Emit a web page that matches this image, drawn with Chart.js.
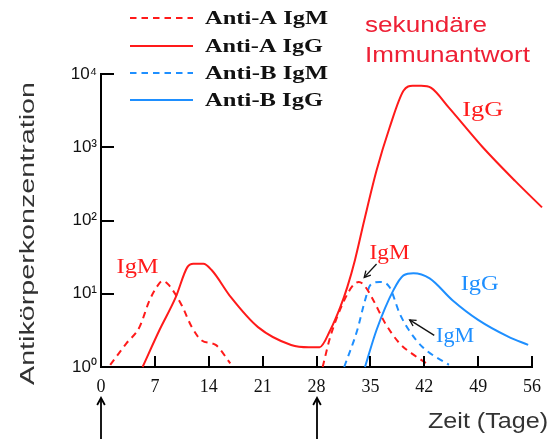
<!DOCTYPE html>
<html>
<head>
<meta charset="utf-8">
<script src="https://cdn.jsdelivr.net/npm/chart.js@4.4.1/dist/chart.umd.min.js"></script>
<style>
  html, body { margin: 0; padding: 0; background: #fff; }
  #wrap { width: 550px; height: 439px; }
</style>
</head>
<body>
<div id="wrap"><canvas id="c" width="550" height="439"></canvas></div>
<script>
// Zeit in Tagen, Konzentration (log-Skala); null = Lücke zwischen Primär- und Sekundärantwort
const antiAIgMDays   = [1.2, 3.3, 5.0, 6.3, 7.3, 8.0, 8.8, 10.5, 11.8, 13.1, 14.9, 16.8, 22, 28.8, 29.8, 31.6, 32.8, 33.5, 34.3, 35.4, 36.9, 38.8, 40.5, 42.3];
const antiAIgMValues = [1.07, 2.1, 3.5, 8.1, 12.6, 15, 13.2, 6.9, 3.5, 2.3, 2.0, 1.12, null, 1.0, 2.6, 8.1, 13.2, 14.5, 12.6, 8.1, 4.0, 2.1, 1.5, 1.12];

const antiAIgGDays   = [5.4, 7.6, 9.7, 11.2, 12.0, 13.3, 14.4, 16.9, 20.4, 24.7, 27.0, 28.4, 29.8, 31.1, 32.0, 33.0, 34.2, 35.8, 37.5, 39.3, 40.5, 41.6, 42.9, 45.2, 49.6, 53.8, 57.3];
const antiAIgGValues = [1.0, 3.2, 8.9, 22.9, 25.7, 25.7, 20.9, 8.9, 3.5, 2.0, 1.86, 1.86, 3.2, 6.6, 12.3, 29, 100, 480, 1860, 5900, 6900, 6900, 6450, 3470, 1000, 347, 151];

const antiBIgMDays   = [31.6, 33.3, 34.3, 35.0, 36.2, 37.5, 38.8, 40.0, 41.8, 45.2];
const antiBIgMValues = [1.0, 3.2, 8.1, 13.2, 14.5, 12.3, 5.4, 3.2, 1.86, 1.07];

const antiBIgGDays   = [34.3, 35.8, 38.0, 39.3, 40.6, 42.7, 45.7, 49.0, 52.9, 55.5];
const antiBIgGValues = [1.0, 3.2, 11.2, 17.8, 19.1, 16.2, 8.1, 4.4, 2.6, 2.0];

const seriesLabels = ['Anti-A IgM', 'Anti-A IgG', 'Anti-B IgM', 'Anti-B IgG'];
const xTicks = [0, 7, 14, 21, 28, 35, 42, 49, 56];
const yTicks = [1, 10, 100, 1000, 10000];
const yTickLabels = ['10⁰', '10¹', '10²', '10³', '10⁴'];
const immunizationDays = [0, 28];

const RED = '#ff1a1a';
const BLUE = '#1e8fff';
const DASH = [6.5, 5];

const zip = (xs, ys) => xs.map((d, i) => ({ x: d, y: ys[i] }));

// Beschriftungen im Diagramm (Datenkoordinaten)
const notes = [
  { text: 'IgM', x: 4.75, y: 23,   color: RED,  w: 42 },
  { text: 'IgG', x: 49.6, y: 3200, color: RED,  w: 41 },
  { text: 'IgM', x: 37.5, y: 36,   color: RED,  w: 40 },
  { text: 'IgG', x: 49.2, y: 13.5, color: BLUE, w: 38 },
  { text: 'IgM', x: 46.0, y: 2.6,  color: BLUE, w: 38 }
];
const pointers = [
  { from: [35.8, 25.5], to: [34.2, 16.7] },
  { from: [43.3, 2.7],  to: [40.1, 4.4] }
];

function stretchText(ctx, text, x, y, width) {
  const w = ctx.measureText(text).width;
  ctx.save();
  ctx.translate(x, y);
  ctx.scale(width / w, 1);
  ctx.textAlign = 'left';
  ctx.fillText(text, 0, 0);
  ctx.restore();
}

function seg(ctx, x1, y1, x2, y2) {
  ctx.beginPath(); ctx.moveTo(x1, y1); ctx.lineTo(x2, y2); ctx.stroke();
}

function arrowHead(ctx, x1, y1, x2, y2, size) {
  const a = Math.atan2(y2 - y1, x2 - x1);
  ctx.beginPath();
  ctx.moveTo(x2 - size * Math.cos(a - 0.5), y2 - size * Math.sin(a - 0.5));
  ctx.lineTo(x2, y2);
  ctx.lineTo(x2 - size * Math.cos(a + 0.5), y2 - size * Math.sin(a + 0.5));
  ctx.stroke();
}

const decor = {
  id: 'decor',
  afterDraw(chart) {
    const { ctx, scales: { x, y } } = chart;
    ctx.save();

    // Teilstriche nach innen
    ctx.strokeStyle = '#000';
    ctx.lineWidth = 2;
    yTicks.slice(1).forEach(v => {
      const py = Math.round(y.getPixelForValue(v));
      seg(ctx, x.left - 1, py, x.left + 13, py);
    });
    xTicks.slice(1).forEach(v => {
      const px = Math.round(x.getPixelForValue(v));
      seg(ctx, px, y.bottom, px, y.bottom - 11);
    });

    // Pfeile für die Immunisierungen
    ctx.lineWidth = 1.8;
    immunizationDays.forEach(d => {
      const px = Math.round(x.getPixelForValue(d));
      seg(ctx, px, 439, px, 399);
      arrowHead(ctx, px, 439, px, 398, 8);
    });

    // Legende
    const rows = [18, 46, 73, 100];
    const styles = [[RED, DASH], [RED, []], [BLUE, DASH], [BLUE, []]];
    const widths = [123, 118, 123, 118];
    rows.forEach((ry, i) => {
      ctx.strokeStyle = styles[i][0];
      ctx.lineWidth = 2;
      ctx.setLineDash(styles[i][1]);
      seg(ctx, 130, ry, 193, ry);
      ctx.setLineDash([]);
      ctx.fillStyle = '#111';
      ctx.font = 'bold 19px "Liberation Serif"';
      ctx.textBaseline = 'middle';
      stretchText(ctx, seriesLabels[i], 205, ry + 1, widths[i]);
    });

    // Beschriftungen der Kurven
    ctx.font = '22px "Liberation Serif"';
    ctx.textBaseline = 'middle';
    notes.forEach(n => {
      ctx.fillStyle = n.color;
      const px = x.getPixelForValue(n.x), py = y.getPixelForValue(n.y);
      stretchText(ctx, n.text, px - n.w / 2, py, n.w);
    });

    ctx.strokeStyle = '#111';
    ctx.lineWidth = 1.3;
    pointers.forEach(p => {
      const x1 = x.getPixelForValue(p.from[0]), y1 = y.getPixelForValue(p.from[1]);
      const x2 = x.getPixelForValue(p.to[0]), y2 = y.getPixelForValue(p.to[1]);
      seg(ctx, x1, y1, x2, y2);
      arrowHead(ctx, x1, y1, x2, y2, 7);
    });

    // Titel
    ctx.fillStyle = '#ee2035';
    ctx.font = '22px "Liberation Sans"';
    ctx.textBaseline = 'alphabetic';
    stretchText(ctx, 'sekundäre', 365, 32, 122);
    stretchText(ctx, 'Immunantwort', 365, 62, 165);

    ctx.fillStyle = '#333';
    ctx.font = '22px "Liberation Sans"';
    stretchText(ctx, 'Zeit (Tage)', 428, 428, 120);

    ctx.save();
    ctx.translate(34, 385);
    ctx.rotate(-Math.PI / 2);
    ctx.font = '21px "Liberation Sans"';
    stretchText(ctx, 'Antikörperkonzentration', 0, 0, 303);
    ctx.restore();

    ctx.restore();
  }
};

new Chart(document.getElementById('c'), {
  type: 'line',
  data: {
    datasets: [
      { label: seriesLabels[0], data: zip(antiAIgMDays, antiAIgMValues), borderColor: RED, borderDash: DASH },
      { label: seriesLabels[1], data: zip(antiAIgGDays, antiAIgGValues), borderColor: RED },
      { label: seriesLabels[2], data: zip(antiBIgMDays, antiBIgMValues), borderColor: BLUE, borderDash: DASH },
      { label: seriesLabels[3], data: zip(antiBIgGDays, antiBIgGValues), borderColor: BLUE }
    ].map(ds => Object.assign({
      borderWidth: 2, pointRadius: 0, fill: false, spanGaps: false,
      cubicInterpolationMode: 'monotone', clip: false
    }, ds))
  },
  options: {
    responsive: false,
    animation: false,
    layout: { padding: { top: 74, right: 13, left: 0, bottom: 0 } },
    plugins: { legend: { display: false }, tooltip: { enabled: false } },
    scales: {
      x: {
        type: 'linear', min: 0, max: 56,
        afterBuildTicks: s => { s.ticks = xTicks.map(v => ({ value: v })); },
        afterFit: s => { s.height = 72; },
        grid: { display: false, drawTicks: false },
        border: { display: true, color: '#000', width: 2 },
        ticks: { color: '#111', padding: 9, maxRotation: 0, font: { family: '"Liberation Serif"', size: 18 } }
      },
      y: {
        type: 'logarithmic', min: 1, max: 10000,
        afterBuildTicks: s => { s.ticks = yTicks.map(v => ({ value: v, major: true })); },
        afterFit: s => { s.width = 101; },
        grid: { display: false, drawTicks: false },
        border: { display: true, color: '#000', width: 2 },
        ticks: {
          color: '#111', padding: 4, autoSkip: false,
          font: { family: '"Liberation Sans"', size: 17 },
          callback: v => yTickLabels[yTicks.indexOf(v)] ?? ''
        }
      }
    }
  },
  plugins: [decor]
});
</script>
</body>
</html>
